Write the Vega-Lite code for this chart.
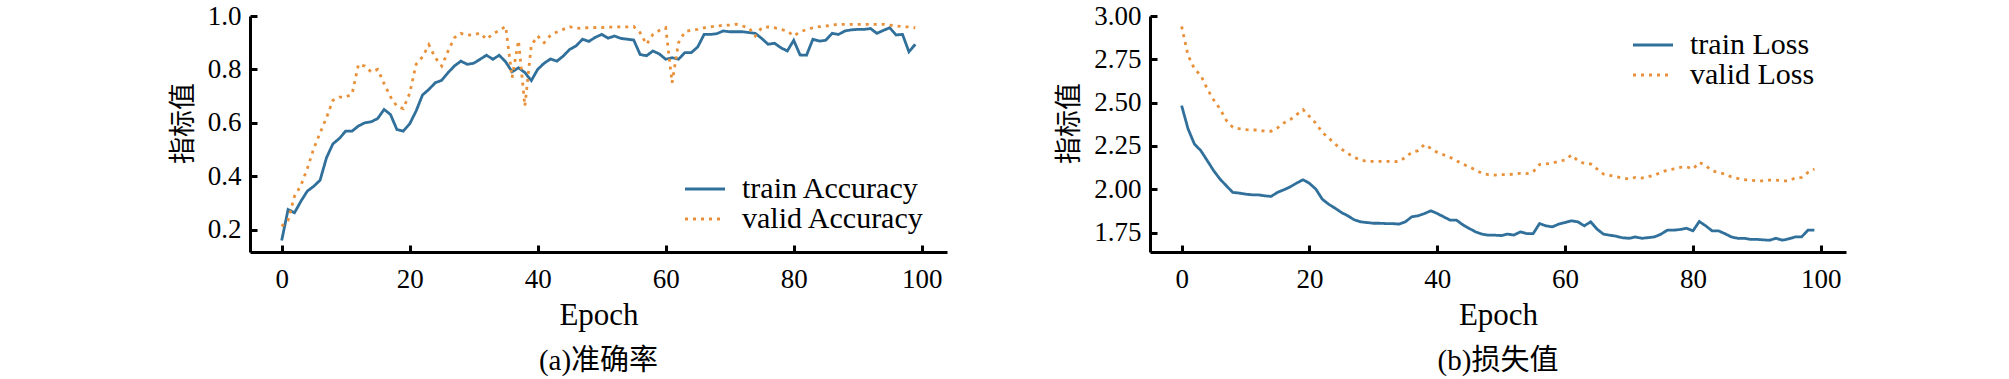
{
 "$schema": "https://vega.github.io/schema/vega-lite/v6.json",
 "background": "white",
 "padding": {"left": 169, "top": 2, "right": 5, "bottom": 5},
 "config": {
  "view": {"stroke": null},
  "font": "Liberation Serif",
  "axis": {"grid": false, "domainColor": "black", "domainWidth": 3, "tickColor": "black", "tickWidth": 3, "tickSize": -7, "labelFont": "Liberation Serif", "labelFontSize": 27, "labelColor": "black", "titleColor": "black", "titleFontWeight": "normal", "labelFlush": false, "labelOverlap": false},
  "legend": {"labelFont": "Liberation Serif", "labelFontSize": 30, "labelColor": "black", "labelLimit": 500, "symbolType": "M-2,0H2", "symbolSize": 400, "symbolStrokeWidth": 3, "labelOffset": 22, "rowPadding": 0, "padding": 0},
  "title": {"color": "black", "fontWeight": "normal", "fontSize": 29, "font": "'Liberation Serif', 'Noto Sans CJK SC'"}
 },
 "datasets": {
  "acc": [
   {"epoch":0,"train":0.159,"valid":0.2125},{"epoch":1,"train":0.275,"valid":0.235},{"epoch":2,"train":0.263,"valid":0.325},{"epoch":3,"train":0.306,"valid":0.365},{"epoch":4,"train":0.344,"valid":0.428},
   {"epoch":5,"train":0.362,"valid":0.503},{"epoch":6,"train":0.385,"valid":0.562},{"epoch":7,"train":0.469,"valid":0.619},{"epoch":8,"train":0.521,"valid":0.684},{"epoch":9,"train":0.541,"valid":0.696},
   {"epoch":10,"train":0.569,"valid":0.696},{"epoch":11,"train":0.569,"valid":0.708},{"epoch":12,"train":0.588,"valid":0.819},{"epoch":13,"train":0.600,"valid":0.8125},{"epoch":14,"train":0.604,"valid":0.79},
   {"epoch":15,"train":0.616,"valid":0.80},{"epoch":16,"train":0.650,"valid":0.747},{"epoch":17,"train":0.631,"valid":0.697},{"epoch":18,"train":0.575,"valid":0.662},{"epoch":19,"train":0.569,"valid":0.653},
   {"epoch":20,"train":0.596,"valid":0.71},{"epoch":21,"train":0.644,"valid":0.819},{"epoch":22,"train":0.704,"valid":0.847},{"epoch":23,"train":0.725,"valid":0.892},{"epoch":24,"train":0.750,"valid":0.844},
   {"epoch":25,"train":0.759,"valid":0.8125},{"epoch":26,"train":0.788,"valid":0.869},{"epoch":27,"train":0.813,"valid":0.919},{"epoch":28,"train":0.831,"valid":0.935},{"epoch":29,"train":0.819,"valid":0.928},
   {"epoch":30,"train":0.823,"valid":0.930},{"epoch":31,"train":0.838,"valid":0.936},{"epoch":32,"train":0.853,"valid":0.9125},{"epoch":33,"train":0.838,"valid":0.933},{"epoch":34,"train":0.853,"valid":0.946},
   {"epoch":35,"train":0.828,"valid":0.961},{"epoch":36,"train":0.791,"valid":0.769},{"epoch":37,"train":0.806,"valid":0.908},{"epoch":38,"train":0.788,"valid":0.6625},{"epoch":39,"train":0.758,"valid":0.89},
   {"epoch":40,"train":0.800,"valid":0.925},{"epoch":41,"train":0.823,"valid":0.90},{"epoch":42,"train":0.839,"valid":0.928},{"epoch":43,"train":0.831,"valid":0.94},{"epoch":44,"train":0.850,"valid":0.95},
   {"epoch":45,"train":0.875,"valid":0.96},{"epoch":46,"train":0.888,"valid":0.953},{"epoch":47,"train":0.913,"valid":0.956},{"epoch":48,"train":0.905,"valid":0.956},{"epoch":49,"train":0.920,"valid":0.957},
   {"epoch":50,"train":0.931,"valid":0.957},{"epoch":51,"train":0.917,"valid":0.958},{"epoch":52,"train":0.925,"valid":0.959},{"epoch":53,"train":0.916,"valid":0.959},{"epoch":54,"train":0.913,"valid":0.959},
   {"epoch":55,"train":0.910,"valid":0.961},{"epoch":56,"train":0.856,"valid":0.9375},{"epoch":57,"train":0.851,"valid":0.894},{"epoch":58,"train":0.869,"valid":0.931},{"epoch":59,"train":0.858,"valid":0.946},
   {"epoch":60,"train":0.838,"valid":0.956},{"epoch":61,"train":0.844,"valid":0.75},{"epoch":62,"train":0.838,"valid":0.90},{"epoch":63,"train":0.863,"valid":0.941},{"epoch":64,"train":0.863,"valid":0.9475},
   {"epoch":65,"train":0.884,"valid":0.95},{"epoch":66,"train":0.931,"valid":0.956},{"epoch":67,"train":0.931,"valid":0.959},{"epoch":68,"train":0.934,"valid":0.9625},{"epoch":69,"train":0.944,"valid":0.965},
   {"epoch":70,"train":0.941,"valid":0.966},{"epoch":71,"train":0.941,"valid":0.969},{"epoch":72,"train":0.941,"valid":0.9625},{"epoch":73,"train":0.938,"valid":0.956},{"epoch":74,"train":0.935,"valid":0.925},
   {"epoch":75,"train":0.916,"valid":0.956},{"epoch":76,"train":0.894,"valid":0.959},{"epoch":77,"train":0.898,"valid":0.956},{"epoch":78,"train":0.881,"valid":0.95},{"epoch":79,"train":0.869,"valid":0.944},
   {"epoch":80,"train":0.909,"valid":0.925},{"epoch":81,"train":0.854,"valid":0.941},{"epoch":82,"train":0.853,"valid":0.949},{"epoch":83,"train":0.913,"valid":0.956},{"epoch":84,"train":0.906,"valid":0.96},
   {"epoch":85,"train":0.909,"valid":0.9625},{"epoch":86,"train":0.935,"valid":0.966},{"epoch":87,"train":0.931,"valid":0.969},{"epoch":88,"train":0.944,"valid":0.969},{"epoch":89,"train":0.948,"valid":0.969},
   {"epoch":90,"train":0.950,"valid":0.969},{"epoch":91,"train":0.950,"valid":0.969},{"epoch":92,"train":0.953,"valid":0.969},{"epoch":93,"train":0.935,"valid":0.969},{"epoch":94,"train":0.946,"valid":0.969},
   {"epoch":95,"train":0.956,"valid":0.966},{"epoch":96,"train":0.929,"valid":0.9625},{"epoch":97,"train":0.931,"valid":0.96},{"epoch":98,"train":0.866,"valid":0.959},{"epoch":99,"train":0.894,"valid":0.956}
  ],
  "loss": [
   {"epoch":0,"train":2.483,"valid":2.94},{"epoch":1,"train":2.349,"valid":2.773},{"epoch":2,"train":2.261,"valid":2.695},{"epoch":3,"train":2.223,"valid":2.657},{"epoch":4,"train":2.166,"valid":2.58},
   {"epoch":5,"train":2.108,"valid":2.516},{"epoch":6,"train":2.059,"valid":2.464},{"epoch":7,"train":2.020,"valid":2.397},{"epoch":8,"train":1.982,"valid":2.358},{"epoch":9,"train":1.978,"valid":2.35},
   {"epoch":10,"train":1.972,"valid":2.344},{"epoch":11,"train":1.968,"valid":2.342},{"epoch":12,"train":1.968,"valid":2.342},{"epoch":13,"train":1.962,"valid":2.335},{"epoch":14,"train":1.959,"valid":2.335},
   {"epoch":15,"train":1.982,"valid":2.354},{"epoch":16,"train":1.997,"valid":2.383},{"epoch":17,"train":2.014,"valid":2.402},{"epoch":18,"train":2.036,"valid":2.431},{"epoch":19,"train":2.055,"valid":2.46},
   {"epoch":20,"train":2.034,"valid":2.42},{"epoch":21,"train":2.001,"valid":2.381},{"epoch":22,"train":1.943,"valid":2.329},{"epoch":23,"train":1.914,"valid":2.296},{"epoch":24,"train":1.891,"valid":2.261},
   {"epoch":25,"train":1.866,"valid":2.232},{"epoch":26,"train":1.847,"valid":2.207},{"epoch":27,"train":1.824,"valid":2.184},{"epoch":28,"train":1.812,"valid":2.169},{"epoch":29,"train":1.808,"valid":2.161},
   {"epoch":30,"train":1.804,"valid":2.161},{"epoch":31,"train":1.804,"valid":2.161},{"epoch":32,"train":1.802,"valid":2.161},{"epoch":33,"train":1.802,"valid":2.161},{"epoch":34,"train":1.799,"valid":2.159},
   {"epoch":35,"train":1.812,"valid":2.184},{"epoch":36,"train":1.841,"valid":2.213},{"epoch":37,"train":1.847,"valid":2.223},{"epoch":38,"train":1.860,"valid":2.258},{"epoch":39,"train":1.876,"valid":2.236},
   {"epoch":40,"train":1.860,"valid":2.213},{"epoch":41,"train":1.841,"valid":2.199},{"epoch":42,"train":1.822,"valid":2.184},{"epoch":43,"train":1.822,"valid":2.165},{"epoch":44,"train":1.795,"valid":2.145},
   {"epoch":45,"train":1.774,"valid":2.13},{"epoch":46,"train":1.754,"valid":2.111},{"epoch":47,"train":1.741,"valid":2.092},{"epoch":48,"train":1.735,"valid":2.084},{"epoch":49,"train":1.735,"valid":2.082},
   {"epoch":50,"train":1.733,"valid":2.084},{"epoch":51,"train":1.741,"valid":2.084},{"epoch":52,"train":1.736,"valid":2.088},{"epoch":53,"train":1.754,"valid":2.092},{"epoch":54,"train":1.744,"valid":2.09},
   {"epoch":55,"train":1.744,"valid":2.10},{"epoch":56,"train":1.802,"valid":2.143},{"epoch":57,"train":1.789,"valid":2.146},{"epoch":58,"train":1.783,"valid":2.151},{"epoch":59,"train":1.799,"valid":2.161},
   {"epoch":60,"train":1.808,"valid":2.169},{"epoch":61,"train":1.818,"valid":2.198},{"epoch":62,"train":1.812,"valid":2.165},{"epoch":63,"train":1.789,"valid":2.149},{"epoch":64,"train":1.812,"valid":2.146},
   {"epoch":65,"train":1.770,"valid":2.117},{"epoch":66,"train":1.741,"valid":2.088},{"epoch":67,"train":1.735,"valid":2.08},{"epoch":68,"train":1.729,"valid":2.072},{"epoch":69,"train":1.720,"valid":2.065},
   {"epoch":70,"train":1.717,"valid":2.059},{"epoch":71,"train":1.725,"valid":2.069},{"epoch":72,"train":1.717,"valid":2.065},{"epoch":73,"train":1.721,"valid":2.072},{"epoch":74,"train":1.725,"valid":2.082},
   {"epoch":75,"train":1.741,"valid":2.097},{"epoch":76,"train":1.764,"valid":2.111},{"epoch":77,"train":1.764,"valid":2.117},{"epoch":78,"train":1.768,"valid":2.126},{"epoch":79,"train":1.775,"valid":2.13},
   {"epoch":80,"train":1.760,"valid":2.117},{"epoch":81,"train":1.814,"valid":2.155},{"epoch":82,"train":1.789,"valid":2.136},{"epoch":83,"train":1.760,"valid":2.107},{"epoch":84,"train":1.760,"valid":2.097},
   {"epoch":85,"train":1.744,"valid":2.088},{"epoch":86,"train":1.725,"valid":2.072},{"epoch":87,"train":1.717,"valid":2.063},{"epoch":88,"train":1.717,"valid":2.055},{"epoch":89,"train":1.711,"valid":2.053},
   {"epoch":90,"train":1.711,"valid":2.049},{"epoch":91,"train":1.708,"valid":2.049},{"epoch":92,"train":1.706,"valid":2.053},{"epoch":93,"train":1.717,"valid":2.053},{"epoch":94,"train":1.706,"valid":2.049},
   {"epoch":95,"train":1.714,"valid":2.049},{"epoch":96,"train":1.725,"valid":2.065},{"epoch":97,"train":1.725,"valid":2.069},{"epoch":98,"train":1.764,"valid":2.097},{"epoch":99,"train":1.764,"valid":2.117}
  ]
 },
 "spacing": 203,
 "bounds": "flush",
 "resolve": {"scale": {"color": "independent", "strokeDash": "independent", "y": "independent"}, "legend": {"color": "independent", "strokeDash": "independent"}},
 "hconcat": [
  {
   "width": 697, "height": 236,
   "data": {"name": "acc"},
   "transform": [{"fold": ["train", "valid"], "as": ["series", "value"]}],
   "title": {"text": "(a)准确率", "orient": "bottom", "anchor": "middle", "offset": 17},
   "mark": {"type": "line", "strokeWidth": 2.8},
   "encoding": {
    "x": {"field": "epoch", "type": "quantitative", "scale": {"domain": [-4.95, 103.95], "nice": false, "zero": false},
          "axis": {"values": [0, 20, 40, 60, 80, 100], "format": "d", "title": "Epoch", "titleFont": "Liberation Serif", "titleFontSize": 31, "labelPadding": 21, "titlePadding": 8}},
    "y": {"field": "value", "type": "quantitative", "scale": {"domain": [0.116, 1.0], "nice": false, "zero": false},
          "axis": {"values": [0.2, 0.4, 0.6, 0.8, 1.0], "format": ".1f", "title": "指标值", "titleFont": "Noto Sans CJK SC", "titleFontSize": 27, "titleY": 107, "labelPadding": 16, "titlePadding": 10}},
    "color": {"field": "series", "type": "nominal", "scale": {"domain": ["train", "valid"], "range": ["#30709b", "#e8913a"]},
              "legend": {"title": null, "orient": "none", "legendX": 440, "legendY": 158, "labelExpr": "datum.label + ' Accuracy'"}},
    "strokeDash": {"field": "series", "type": "nominal", "scale": {"domain": ["train", "valid"], "range": [[1, 0], [3, 5]]},
              "legend": {"title": null, "orient": "none", "legendX": 440, "legendY": 158, "labelExpr": "datum.label + ' Accuracy'"}}
   }
  },
  {
   "width": 696, "height": 236,
   "data": {"name": "loss"},
   "transform": [{"fold": ["train", "valid"], "as": ["series", "value"]}],
   "title": {"text": "(b)损失值", "orient": "bottom", "anchor": "middle", "offset": 17},
   "mark": {"type": "line", "strokeWidth": 2.8},
   "encoding": {
    "x": {"field": "epoch", "type": "quantitative", "scale": {"domain": [-4.95, 103.95], "nice": false, "zero": false},
          "axis": {"values": [0, 20, 40, 60, 80, 100], "format": "d", "title": "Epoch", "titleFont": "Liberation Serif", "titleFontSize": 31, "labelPadding": 21, "titlePadding": 8}},
    "y": {"field": "value", "type": "quantitative", "scale": {"domain": [1.638, 3.0], "nice": false, "zero": false},
          "axis": {"values": [1.75, 2.0, 2.25, 2.5, 2.75, 3.0], "format": ".2f", "title": "指标值", "titleFont": "Noto Sans CJK SC", "titleFontSize": 27, "titleY": 107, "labelPadding": 16, "titlePadding": 10}},
    "color": {"field": "series", "type": "nominal", "scale": {"domain": ["train", "valid"], "range": ["#30709b", "#e8913a"]},
              "legend": {"title": null, "orient": "none", "legendX": 488, "legendY": 14, "labelExpr": "datum.label + ' Loss'"}},
    "strokeDash": {"field": "series", "type": "nominal", "scale": {"domain": ["train", "valid"], "range": [[1, 0], [3, 5]]},
              "legend": {"title": null, "orient": "none", "legendX": 488, "legendY": 14, "labelExpr": "datum.label + ' Loss'"}}
   }
  }
 ]
}
